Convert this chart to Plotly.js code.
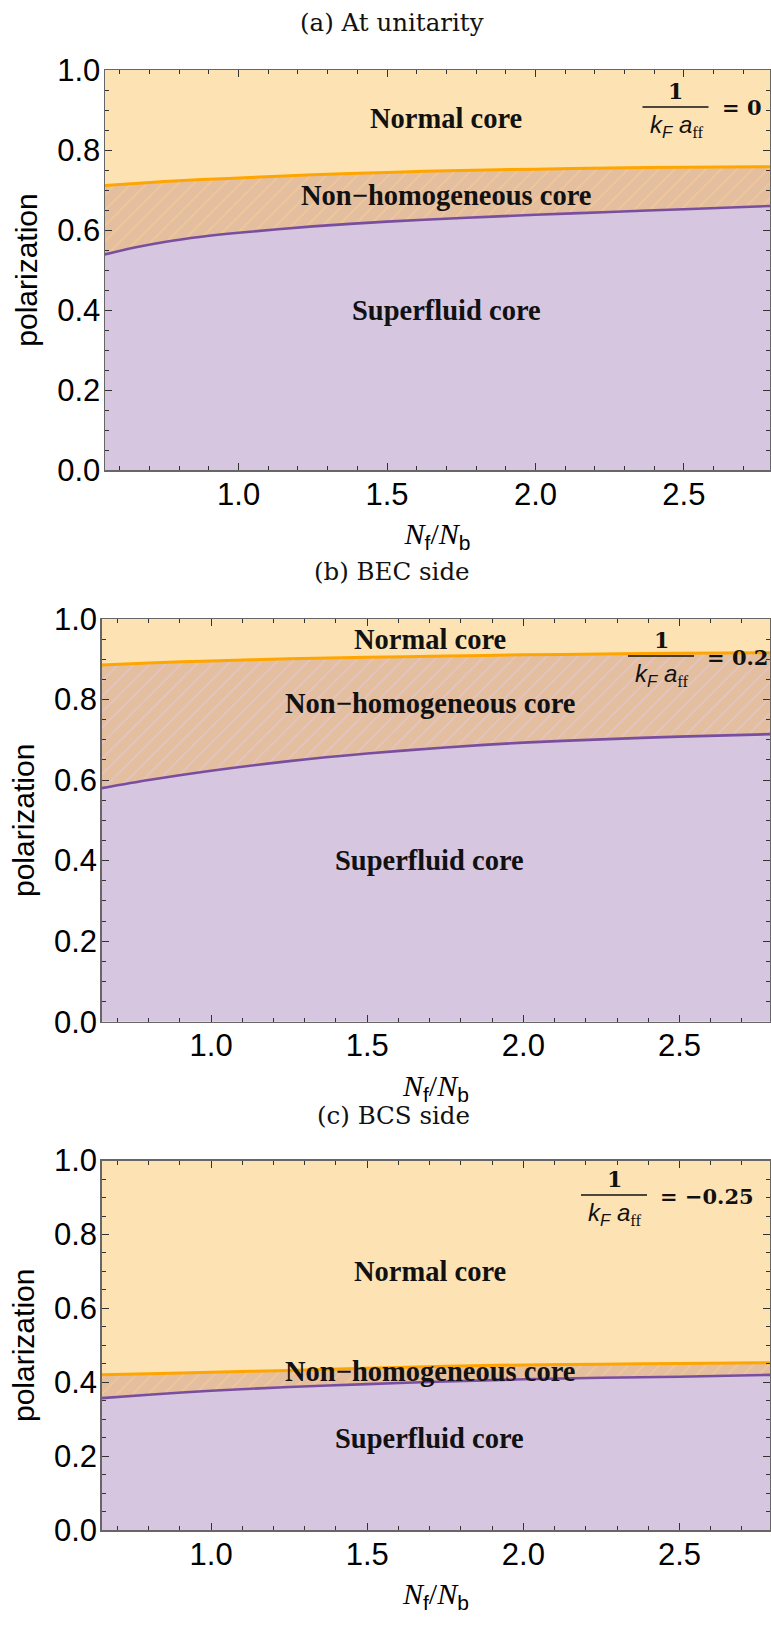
<!DOCTYPE html>
<html><head><meta charset="utf-8">
<script src="https://cdn.plot.ly/plotly-3.0.1.min.js"></script>
<style>html,body{margin:0;padding:0;background:#fff}</style>
</head><body><div id="chart" style="width:771px;height:1650px"></div>
<script>
// ---------- data ----------
// (a) At unitarity, 1/(kF aff) = 0
const ratioA = [0.55, 0.65, 0.75, 0.875, 1.0, 1.25, 1.5, 1.75, 2.0, 2.25, 2.5, 2.79];
const superfluidA = [0.539, 0.556, 0.570, 0.583, 0.593, 0.609, 0.621, 0.630, 0.638, 0.645, 0.652, 0.660];
const normalA = [0.711, 0.716, 0.721, 0.726, 0.730, 0.738, 0.744, 0.749, 0.752, 0.755, 0.757, 0.758];
// (b) BEC side, 1/(kF aff) = 0.2
const ratioB = [0.65, 0.8, 1.0, 1.25, 1.5, 1.75, 2.0, 2.25, 2.5, 2.79];
const superfluidB = [0.580, 0.600, 0.623, 0.647, 0.666, 0.681, 0.693, 0.701, 0.708, 0.714];
const normalB = [0.886, 0.891, 0.896, 0.901, 0.905, 0.908, 0.911, 0.913, 0.915, 0.916];
// (c) BCS side, 1/(kF aff) = -0.25
const ratioC = [0.65, 0.8, 1.0, 1.25, 1.5, 1.75, 2.0, 2.25, 2.5, 2.79];
const superfluidC = [0.357, 0.366, 0.377, 0.387, 0.395, 0.402, 0.408, 0.412, 0.415, 0.420];
const normalC = [0.420, 0.423, 0.427, 0.432, 0.438, 0.443, 0.447, 0.449, 0.451, 0.453];

const panelTitles = ["(a) At unitarity", "(b) BEC side", "(c) BCS side"];
const couplingValues = ["0", "0.2", "\u22120.25"];
const regionNames = ["Normal core", "Non\u2212homogeneous core", "Superfluid core"];
const xTickVals = [1.0, 1.5, 2.0, 2.5];
const yTickVals = [0.0, 0.2, 0.4, 0.6, 0.8, 1.0];

// ---------- styling / layout ----------
const W = 771, H = 1650;
const px = v => v / W;
const py = v => 1 - v / H;

const C_NORMAL = '#FDE3B4';
const C_SF = '#D6C6DF';
const C_NH = '#E3BE9F';
const C_ORANGE = '#FFA500';
const C_PURPLE = '#7A4E9E';

const panels = [
  {x: ratioA, sf: superfluidA, n: normalA, xr: [0.55, 2.79],
   xdom: [px(105), px(770)], ydom: [py(470), py(70)],
   labelY: [0.88, 0.6875, 0.40], labelX: 1.70,
   title: [392, 23], frac: [675.5, 107], stripe: 'rgba(250,205,150,0.75)'},
  {x: ratioB, sf: superfluidB, n: normalB, xr: [0.65, 2.79],
   xdom: [px(101.8), px(770)], ydom: [py(1021.7), py(619)],
   labelY: [0.95, 0.789, 0.40], labelX: 1.70,
   title: [392, 571], frac: [661, 656], stripe: 'rgba(225,200,225,0.75)'},
  {x: ratioC, sf: superfluidC, n: normalC, xr: [0.65, 2.79],
   xdom: [px(101.8), px(770)], ydom: [py(1530), py(1160.6)],
   labelY: [0.70, 0.4286, 0.248], labelX: 1.70,
   title: [393, 1115], frac: [614, 1195], stripe: 'rgba(250,205,150,0.75)'}
];

const traces = [];
const layout = {
  width: W, height: H,
  margin: {l: 0, r: 0, t: 0, b: 0, pad: 0},
  paper_bgcolor: '#ffffff',
  plot_bgcolor: C_NORMAL,
  showlegend: false,
  annotations: [],
  shapes: []
};

panels.forEach((p, i) => {
  const k = i === 0 ? '' : String(i + 1);
  const xa = 'x' + k, ya = 'y' + k;
  traces.push({x: p.x, y: p.sf, xaxis: xa, yaxis: ya, type: 'scatter', mode: 'lines',
    line: {width: 0, shape: 'spline', smoothing: 0.8, color: C_PURPLE}, fill: 'tozeroy', fillcolor: C_SF, hoverinfo: 'skip'});
  traces.push({x: p.x, y: p.n, xaxis: xa, yaxis: ya, type: 'scatter', mode: 'lines',
    line: {width: 0, shape: 'spline', smoothing: 0.8, color: C_ORANGE}, fill: 'tonexty', fillcolor: C_NH,
    fillpattern: {shape: '/', bgcolor: C_NH, fgcolor: p.stripe, size: 11, solidity: 0.12}, hoverinfo: 'skip'});
  traces.push({x: p.x, y: p.sf, xaxis: xa, yaxis: ya, type: 'scatter', mode: 'lines',
    line: {width: 2.6, shape: 'spline', smoothing: 0.8, color: C_PURPLE}, hoverinfo: 'skip'});
  traces.push({x: p.x, y: p.n, xaxis: xa, yaxis: ya, type: 'scatter', mode: 'lines',
    line: {width: 3, shape: 'spline', smoothing: 0.8, color: C_ORANGE}, hoverinfo: 'skip'});

  const common = {
    showgrid: false, zeroline: false, showline: true, linecolor: '#666', linewidth: 1.5,
    mirror: 'ticks', ticks: 'inside', ticklen: 7, tickwidth: 1, tickcolor: '#333',
    tickfont: {family: 'Liberation Sans, Arial, sans-serif', size: 31, color: '#000'},
    fixedrange: true
  };
  layout['xaxis' + k] = Object.assign({}, common, {
    domain: p.xdom, range: p.xr, anchor: ya, ticklabelstandoff: -4,
    tickmode: 'array', tickvals: xTickVals, ticktext: xTickVals.map(v => v.toFixed(1)),
    minor: {dtick: 0.1, tick0: 0, ticklen: 4, tickwidth: 1, tickcolor: '#333', ticks: 'inside', showgrid: false},
    title: {text: '<i>N</i><sub><span style="font-family:Liberation Sans">f</span></sub>/<i>N</i><sub><span style="font-family:Liberation Sans">b</span></sub>',
      font: {family: 'Liberation Serif, serif', size: 30, color: '#000'}, standoff: 12}
  });
  layout['yaxis' + k] = Object.assign({}, common, {
    domain: p.ydom, range: [0, 1], anchor: xa, ticklabelstandoff: -3,
    tickmode: 'array', tickvals: yTickVals, ticktext: yTickVals.map(v => v.toFixed(1)),
    minor: {dtick: 0.05, tick0: 0, ticklen: 4, tickwidth: 1, tickcolor: '#333', ticks: 'inside', showgrid: false},
    title: {text: 'polarization', font: {family: 'Liberation Sans, Arial, sans-serif', size: 30, color: '#000'}, standoff: 10}
  });

  // region labels
  regionNames.forEach((name, j) => {
    layout.annotations.push({xref: xa, yref: ya, x: p.labelX, y: p.labelY[j], text: '<b>' + name + '</b>',
      showarrow: false, xanchor: 'center', yanchor: 'middle',
      font: {family: 'Liberation Serif, Times New Roman, serif', size: 28.5, color: '#111'}});
  });

  // panel title
  layout.annotations.push({xref: 'paper', yref: 'paper', x: px(p.title[0]), y: py(p.title[1]),
    text: panelTitles[i], showarrow: false, xanchor: 'center', yanchor: 'middle',
    font: {family: 'DejaVu Serif, serif', size: 24.5, color: '#111'}});

  // coupling fraction 1/(kF aff) = value
  const cx = p.frac[0], cy = p.frac[1];
  layout.annotations.push({xref: 'paper', yref: 'paper', x: px(cx), y: py(cy - 16),
    text: '<b>1</b>', showarrow: false, xanchor: 'center', yanchor: 'middle',
    font: {family: 'DejaVu Serif, serif', size: 22, color: '#111'}});
  layout.annotations.push({xref: 'paper', yref: 'paper', x: px(cx + 1), y: py(cy + 19),
    text: '<i>k</i><sub><i>F</i></sub> <i>a</i><sub><span style="font-family:Liberation Serif">ff</span></sub>',
    showarrow: false, xanchor: 'center', yanchor: 'middle',
    font: {family: 'Liberation Sans, Arial, sans-serif', size: 24, color: '#111'}});
  layout.annotations.push({xref: 'paper', yref: 'paper', x: px(cx + 44), y: py(cy + 1),
    text: '<b>= ' + couplingValues[i] + '</b>', showarrow: false, xanchor: 'left', yanchor: 'middle',
    font: {family: 'DejaVu Serif, serif', size: 21, color: '#111'}});
  layout.shapes.push({type: 'line', xref: 'paper', yref: 'paper',
    x0: px(cx - 33), x1: px(cx + 33), y0: py(cy), y1: py(cy), line: {color: '#111', width: 1.5}});
});

Plotly.newPlot('chart', traces, layout, {staticPlot: true, displayModeBar: false});
</script></body></html>
